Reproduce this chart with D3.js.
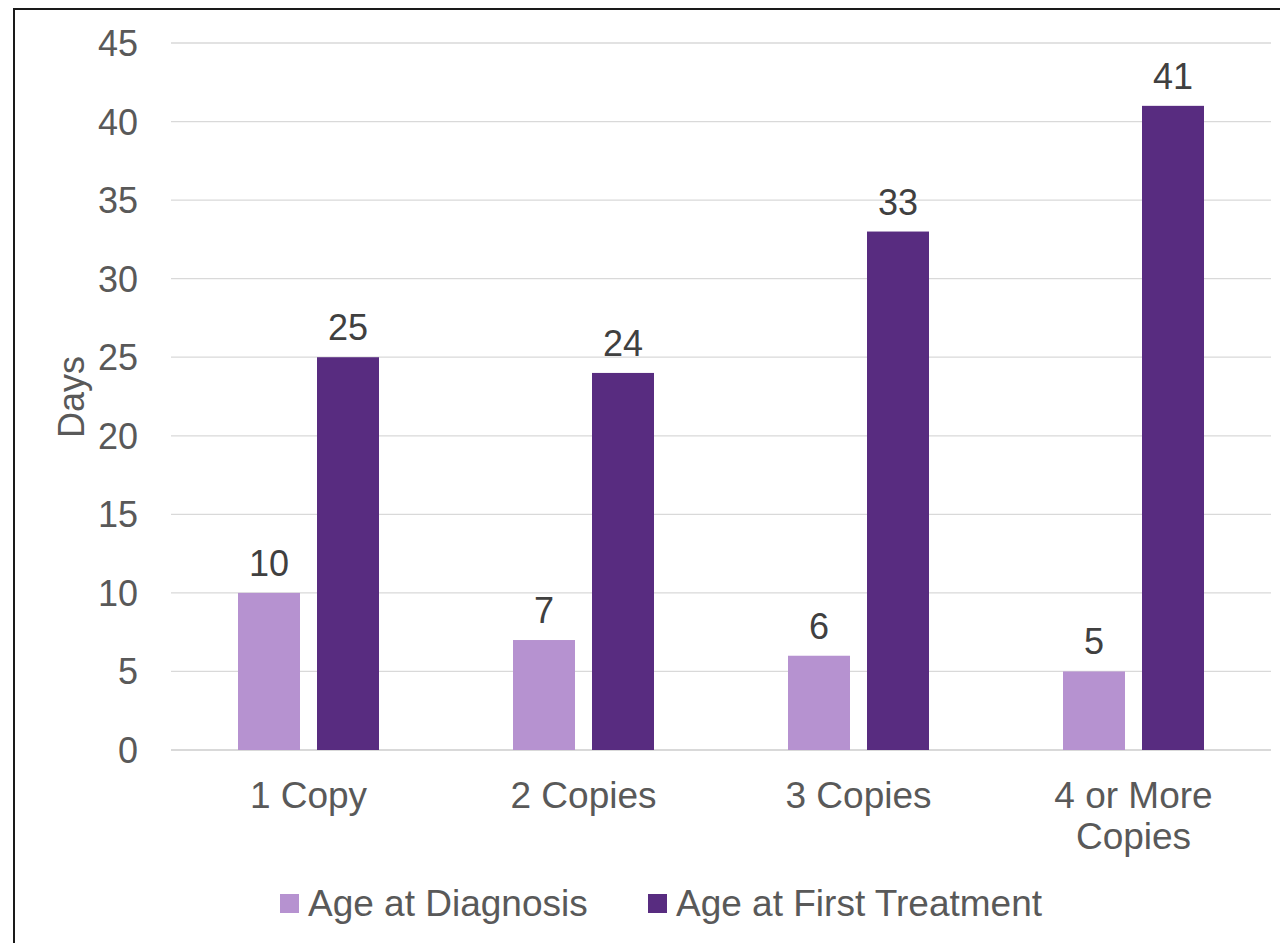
<!DOCTYPE html>
<html>
<head>
<meta charset="utf-8">
<script src="https://cdn.jsdelivr.net/npm/d3@7"></script>
<style>
	body { margin: 0; background: #fff; }
	text { font-family: "Liberation Sans", Arial, sans-serif; }
</style>
</head>
<body>
<div id="bar-chart"></div>
<script>
var categories = [["1 Copy"], ["2 Copies"], ["3 Copies"], ["4 or More", "Copies"]];
var seriesNames = ["Age at Diagnosis", "Age at First Treatment"];
var diagnosis = [10, 7, 6, 5];
var treatment = [25, 24, 33, 41];
var yTicks = [0, 5, 10, 15, 20, 25, 30, 35, 40, 45];
var colors = ["#B692D0", "#582C80"];

var width = 1280, height = 943;

var svg = d3.select("#bar-chart").append("svg")
	.attr("width", width)
	.attr("height", height);

// outer frame
svg.append("rect")
	.attr("x", 14)
	.attr("y", 9)
	.attr("width", 1300)
	.attr("height", 1000)
	.attr("fill", "none")
	.attr("stroke", "#1a1a1a")
	.attr("stroke-width", 2);

var x = d3.scaleBand()
	.domain(d3.range(categories.length))
	.range([171, 1271]);

var y = d3.scaleLinear()
	.domain([0, 45])
	.range([750, 43]);

// gridlines
svg.selectAll("line.grid")
	.data(yTicks)
	.enter()
	.append("line")
	.attr("class", "grid")
	.attr("x1", 171)
	.attr("x2", 1271)
	.attr("y1", function(d) { return y(d); })
	.attr("y2", function(d) { return y(d); })
	.attr("stroke", "#D9D9D9")
	.attr("stroke-width", function(d) { return d === 0 ? 2 : 1.3; });

// y tick labels
svg.selectAll("text.ytick")
	.data(yTicks)
	.enter()
	.append("text")
	.attr("class", "ytick")
	.attr("x", 138)
	.attr("y", function(d) { return y(d); })
	.attr("dy", "0.36em")
	.attr("text-anchor", "end")
	.attr("font-size", 36)
	.attr("fill", "#595959")
	.text(function(d) { return d; });

// y axis title
svg.append("text")
	.attr("transform", "translate(84,397) rotate(-90)")
	.attr("text-anchor", "middle")
	.attr("font-size", 36)
	.attr("fill", "#595959")
	.text("Days");

var barW = 62, gap = 17;
var series = [diagnosis, treatment];

series.forEach(function(vals, s) {
	var offset = s === 0 ? -(barW + gap / 2) : gap / 2;

	svg.selectAll("rect.bar-" + s)
		.data(vals)
		.enter()
		.append("rect")
		.attr("class", "bar-" + s)
		.attr("x", function(d, i) { return x(i) + x.bandwidth() / 2 + offset; })
		.attr("y", function(d) { return y(d); })
		.attr("width", barW)
		.attr("height", function(d) { return y(0) - y(d); })
		.attr("fill", colors[s]);

	// value labels
	svg.selectAll("text.val-" + s)
		.data(vals)
		.enter()
		.append("text")
		.attr("class", "val-" + s)
		.attr("x", function(d, i) { return x(i) + x.bandwidth() / 2 + offset + barW / 2; })
		.attr("y", function(d) { return y(d) - 17; })
		.attr("text-anchor", "middle")
		.attr("font-size", 36)
		.attr("fill", "#404040")
		.text(function(d) { return d; });
});

// category labels
var cat = svg.selectAll("text.cat")
	.data(categories)
	.enter()
	.append("text")
	.attr("class", "cat")
	.attr("text-anchor", "middle")
	.attr("font-size", 37)
	.attr("fill", "#595959");

cat.selectAll("tspan")
	.data(function(d, i) { return d.map(function(t) { return { t: t, i: i }; }); })
	.enter()
	.append("tspan")
	.attr("x", function(d) { return x(d.i) + x.bandwidth() / 2; })
	.attr("y", function(d, j) { return 808 + j * 41; })
	.text(function(d) { return d.t; });

// legend
var legendX = [280, 648];
seriesNames.forEach(function(name, s) {
	svg.append("rect")
		.attr("x", legendX[s])
		.attr("y", 894)
		.attr("width", 19)
		.attr("height", 19)
		.attr("fill", colors[s]);
	svg.append("text")
		.attr("x", legendX[s] + 28)
		.attr("y", 916)
		.attr("font-size", 37)
		.attr("fill", "#595959")
		.text(name);
});
</script>
</body>
</html>
